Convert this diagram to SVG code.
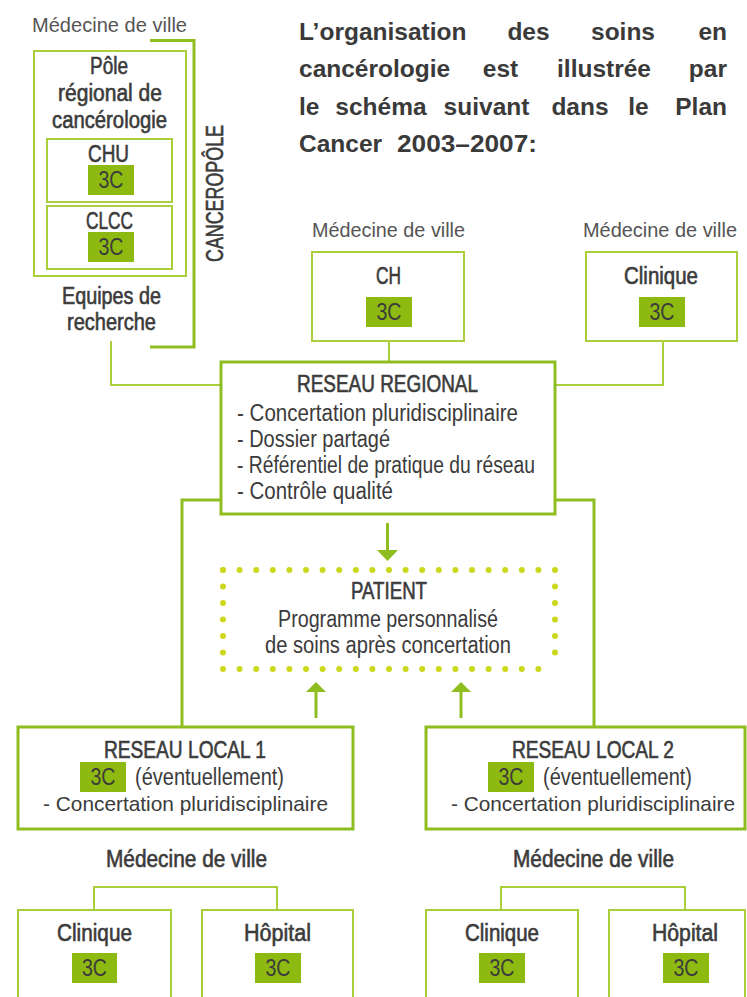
<svg xmlns="http://www.w3.org/2000/svg" width="747" height="997" viewBox="0 0 747 997">
<style>
text{font-family:"Liberation Sans",Arial,sans-serif;font-size:23px;fill:#3b3b3b}
.t{font-size:24.5px;font-weight:bold;fill:#3a3a3a}
.e{text-anchor:end}
.h{stroke:#3b3b3b;stroke-width:0.6}
.mv{fill:#555555;font-size:20.5px}
.sm{font-size:21px}
.c{text-anchor:middle}
.thick{fill:none;stroke:#8dbd1f;stroke-width:3}
.thin{fill:none;stroke:#a9cf3c;stroke-width:2}
.cw{fill:#ffffff;stroke:#a9cf3c;stroke-width:2}
.tb{fill:#ffffff;stroke:#8dbd1f;stroke-width:3}
.g3{fill:#8db911}
.dot{fill:none;stroke:#ccd81c;stroke-width:6;stroke-linecap:round}
.ah{fill:#8dbd1f}
</style>

<!-- Title -->
<g id="title">
<text class="t" x="299" y="40">L’organisation</text>
<text class="t" x="528.5" y="40" text-anchor="middle">des</text>
<text class="t" x="623" y="40" text-anchor="middle">soins</text>
<text class="t e" x="727" y="40">en</text>
<text class="t" x="299" y="77">cancérologie</text>
<text class="t" x="500.5" y="77" text-anchor="middle">est</text>
<text class="t" x="604" y="77" text-anchor="middle">illustrée</text>
<text class="t e" x="727" y="77">par</text>
<text class="t" x="299" y="115">le</text>
<text class="t" x="381" y="115" text-anchor="middle">schéma</text>
<text class="t" x="486.5" y="115" text-anchor="middle">suivant</text>
<text class="t" x="580" y="115" text-anchor="middle">dans</text>
<text class="t" x="638.5" y="115" text-anchor="middle">le</text>
<text class="t e" x="727" y="115">Plan</text>
<text class="t" x="299" y="152">Cancer</text>
<text class="t" x="397" y="152" textLength="140" lengthAdjust="spacingAndGlyphs">2003–2007:</text>
</g>

<!-- Connectors -->
<g id="connectors">
<polyline class="thin" points="111,341 111,385 221,385"/>
<line class="thin" x1="389" y1="341" x2="389" y2="362"/>
<polyline class="thin" points="663,341 663,385 555,385"/>
<polyline class="thick" points="221,500 182,500 182,727"/>
<polyline class="thick" points="555,500 594,500 594,727"/>
<line class="thick" x1="387.5" y1="523" x2="387.5" y2="551"/>
<polygon class="ah" points="377,550 398,550 387.5,561"/>
<line class="thick" x1="316" y1="718" x2="316" y2="691"/>
<polygon class="ah" points="306,692 326,692 316,682"/>
<line class="thick" x1="461" y1="718" x2="461" y2="691"/>
<polygon class="ah" points="451,692 471,692 461,682"/>
<polyline class="thin" points="94,910 94,887 277,887 277,910"/>
<polyline class="thin" points="501,910 501,887 685,887 685,910"/>
</g>

<!-- Canceropole bracket -->
<g id="canceropole">
<polyline class="thick" points="150,40.5 194,40.5 194,347 150,347"/>
<text class="h" x="0" y="0" transform="translate(223,193.5) rotate(-90)" text-anchor="middle" textLength="137" lengthAdjust="spacingAndGlyphs">CANCEROPÔLE</text>
</g>

<g id="medville-top-left">
<text class="mv c" x="109.5" y="32" textLength="155" lengthAdjust="spacingAndGlyphs">Médecine de ville</text>
</g>

<g id="pole">
<rect class="cw" x="34" y="51" width="152" height="225"/>
<text class="h c" x="109" y="74" textLength="38" lengthAdjust="spacingAndGlyphs">Pôle</text>
<text class="h c" x="110" y="101" textLength="104" lengthAdjust="spacingAndGlyphs">régional de</text>
<text class="h c" x="109.5" y="128" textLength="115" lengthAdjust="spacingAndGlyphs">cancérologie</text>
</g>

<g id="chu">
<rect class="cw" x="47" y="139" width="125" height="63"/>
<text class="h c" x="108.5" y="162" textLength="41" lengthAdjust="spacingAndGlyphs">CHU</text>
<rect class="g3" x="88" y="165" width="46" height="30"/>
<text class="c" x="111" y="188" textLength="25" lengthAdjust="spacingAndGlyphs">3C</text>
</g>

<g id="clcc">
<rect class="cw" x="47" y="206" width="125" height="63"/>
<text class="h c" x="109.5" y="229" textLength="47" lengthAdjust="spacingAndGlyphs">CLCC</text>
<rect class="g3" x="88" y="232" width="46" height="30"/>
<text class="c" x="111" y="255" textLength="25" lengthAdjust="spacingAndGlyphs">3C</text>
</g>

<g id="equipes">
<text class="h c" x="111.5" y="304" textLength="99" lengthAdjust="spacingAndGlyphs">Equipes de</text>
<text class="h c" x="111.5" y="330" textLength="89" lengthAdjust="spacingAndGlyphs">recherche</text>
</g>

<g id="medville-ch">
<text class="mv c" x="388.5" y="237" textLength="153" lengthAdjust="spacingAndGlyphs">Médecine de ville</text>
</g>
<g id="ch">
<rect class="cw" x="312" y="252" width="152" height="89"/>
<text class="h c" x="388.5" y="284" textLength="25" lengthAdjust="spacingAndGlyphs">CH</text>
<rect class="g3" x="366" y="297" width="46" height="30"/>
<text class="c" x="389" y="320" textLength="25" lengthAdjust="spacingAndGlyphs">3C</text>
</g>

<g id="medville-clinique">
<text class="mv c" x="660" y="237" textLength="154" lengthAdjust="spacingAndGlyphs">Médecine de ville</text>
</g>
<g id="clinique-top">
<rect class="cw" x="586" y="252" width="151" height="89"/>
<text class="h c" x="661" y="284" textLength="74" lengthAdjust="spacingAndGlyphs">Clinique</text>
<rect class="g3" x="639" y="297" width="46" height="30"/>
<text class="c" x="662" y="320" textLength="25" lengthAdjust="spacingAndGlyphs">3C</text>
</g>

<g id="reseau-regional">
<rect class="tb" x="221" y="362" width="334" height="152"/>
<text class="h c" x="387.5" y="392" textLength="181" lengthAdjust="spacingAndGlyphs">RESEAU REGIONAL</text>
<text x="237" y="421" textLength="281" lengthAdjust="spacingAndGlyphs">- Concertation pluridisciplinaire</text>
<text x="237" y="447" textLength="153" lengthAdjust="spacingAndGlyphs">- Dossier partagé</text>
<text x="237" y="473" textLength="298" lengthAdjust="spacingAndGlyphs">- Référentiel de pratique du réseau</text>
<text x="237" y="499" textLength="156" lengthAdjust="spacingAndGlyphs">- Contrôle qualité</text>
</g>

<g id="patient">
<line class="dot" x1="223" y1="570" x2="555" y2="570" stroke-dasharray="0 16.6"/>
<line class="dot" x1="223" y1="669" x2="555" y2="669" stroke-dasharray="0 16.6"/>
<line class="dot" x1="223" y1="570" x2="223" y2="669" stroke-dasharray="0 16.5"/>
<line class="dot" x1="555" y1="570" x2="555" y2="669" stroke-dasharray="0 16.5"/>
<text class="h c" x="389" y="599" textLength="76" lengthAdjust="spacingAndGlyphs">PATIENT</text>
<text class="c" x="388" y="627" textLength="220" lengthAdjust="spacingAndGlyphs">Programme personnalisé</text>
<text class="c" x="388" y="653" textLength="246" lengthAdjust="spacingAndGlyphs">de soins après concertation</text>
</g>

<g id="reseau-local-1">
<rect class="tb" x="18" y="727" width="335" height="102"/>
<text class="h c" x="185" y="758" textLength="162" lengthAdjust="spacingAndGlyphs">RESEAU LOCAL 1</text>
<rect class="g3" x="80" y="762" width="46" height="30"/>
<text class="c" x="103" y="785" textLength="25" lengthAdjust="spacingAndGlyphs">3C</text>
<text x="135" y="785" textLength="149" lengthAdjust="spacingAndGlyphs">(éventuellement)</text>
<text class="c sm" x="185.5" y="811" textLength="285" lengthAdjust="spacingAndGlyphs">- Concertation pluridisciplinaire</text>
</g>

<g id="reseau-local-2">
<rect class="tb" x="426" y="727" width="319" height="102"/>
<text class="h c" x="593" y="758" textLength="162" lengthAdjust="spacingAndGlyphs">RESEAU LOCAL 2</text>
<rect class="g3" x="488" y="762" width="46" height="30"/>
<text class="c" x="511" y="785" textLength="25" lengthAdjust="spacingAndGlyphs">3C</text>
<text x="543" y="785" textLength="149" lengthAdjust="spacingAndGlyphs">(éventuellement)</text>
<text class="c sm" x="593" y="811" textLength="284" lengthAdjust="spacingAndGlyphs">- Concertation pluridisciplinaire</text>
</g>

<g id="medville-local-1">
<text class="h c" x="186.5" y="867" textLength="161" lengthAdjust="spacingAndGlyphs">Médecine de ville</text>
</g>
<g id="clinique-1">
<rect class="cw" x="18" y="910" width="153" height="100"/>
<text class="h c" x="94.5" y="941" textLength="75" lengthAdjust="spacingAndGlyphs">Clinique</text>
<rect class="g3" x="72" y="953" width="45" height="30"/>
<text class="c" x="94.5" y="976" textLength="25" lengthAdjust="spacingAndGlyphs">3C</text>
</g>
<g id="hopital-1">
<rect class="cw" x="202" y="910" width="151" height="100"/>
<text class="h c" x="277.5" y="941" textLength="67" lengthAdjust="spacingAndGlyphs">Hôpital</text>
<rect class="g3" x="255" y="953" width="46" height="30"/>
<text class="c" x="278" y="976" textLength="25" lengthAdjust="spacingAndGlyphs">3C</text>
</g>

<g id="medville-local-2">
<text class="h c" x="593.5" y="867" textLength="161" lengthAdjust="spacingAndGlyphs">Médecine de ville</text>
</g>
<g id="clinique-2">
<rect class="cw" x="426" y="910" width="152" height="100"/>
<text class="h c" x="502" y="941" textLength="74" lengthAdjust="spacingAndGlyphs">Clinique</text>
<rect class="g3" x="479" y="953" width="46" height="30"/>
<text class="c" x="502" y="976" textLength="25" lengthAdjust="spacingAndGlyphs">3C</text>
</g>
<g id="hopital-2">
<rect class="cw" x="609" y="910" width="136" height="100"/>
<text class="h c" x="685" y="941" textLength="66" lengthAdjust="spacingAndGlyphs">Hôpital</text>
<rect class="g3" x="663" y="953" width="46" height="30"/>
<text class="c" x="686" y="976" textLength="25" lengthAdjust="spacingAndGlyphs">3C</text>
</g>
</svg>
